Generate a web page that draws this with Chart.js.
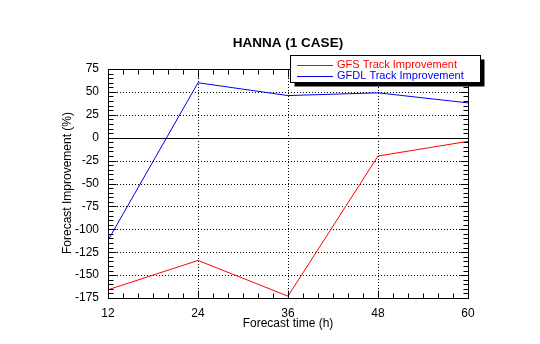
<!DOCTYPE html>
<html>
<head>
<meta charset="utf-8">
<script src="https://cdn.jsdelivr.net/npm/chart.js@4.4.1/dist/chart.umd.min.js"></script>
<style>
  html, body { margin: 0; padding: 0; background: #fff; }
  #wrap { width: 540px; height: 344px; }
</style>
</head>
<body>
<div id="wrap"><canvas id="trackChart" width="540" height="344"></canvas></div>
<script>
const forecastHours = [12, 24, 36, 48, 60];
const gfsImprovement = [-166, -134, -173, -20, -4];
const gfdlImprovement = [-112, 60, 46, 49, 38];
const yTicks = [75, 50, 25, 0, -25, -50, -75, -100, -125, -150, -175];

const FONT = 'Liberation Sans, Arial, Helvetica, sans-serif';

// frame, inward ticks, dotted grid, legend box and titles
const framePlugin = {
    id: 'frame',
    beforeDatasetsDraw(chart) {
        const { ctx, chartArea: a, scales: { x, y } } = chart;
        ctx.save();
        ctx.strokeStyle = '#000';
        ctx.lineWidth = 1;
        ctx.setLineDash([1, 2]);
        forecastHours.slice(1, -1).forEach(h => {
            const px = Math.round(x.getPixelForValue(h)) + 0.5;
            ctx.beginPath(); ctx.moveTo(px, a.top); ctx.lineTo(px, a.bottom); ctx.stroke();
        });
        yTicks.slice(1, -1).forEach(v => {
            if (v === 0) return;
            const py = Math.round(y.getPixelForValue(v)) + 0.5;
            ctx.beginPath(); ctx.moveTo(a.left, py); ctx.lineTo(a.right, py); ctx.stroke();
        });
        ctx.setLineDash([]);
        const zy = Math.round(y.getPixelForValue(0)) + 0.5;
        ctx.beginPath(); ctx.moveTo(a.left, zy); ctx.lineTo(a.right, zy); ctx.stroke();
        ctx.restore();
    },
    afterDatasetsDraw(chart) {
        const { ctx, chartArea: a, scales: { x, y } } = chart;
        ctx.save();
        ctx.strokeStyle = '#000';
        ctx.lineWidth = 1;
        const L = Math.round(a.left) + 0.5, R = Math.round(a.right) + 0.5;
        const T = Math.round(a.top) + 0.5, B = Math.round(a.bottom) + 0.5;
        ctx.strokeRect(L, T, R - L, B - T);

        // x ticks every 2 h, major every 12 h
        for (let h = 12; h <= 60; h += 2) {
            const px = Math.round(x.getPixelForValue(h)) + 0.5;
            const len = (h % 12 === 0) ? 8 : 5;
            ctx.beginPath();
            ctx.moveTo(px, B); ctx.lineTo(px, B - len);
            ctx.moveTo(px, T); ctx.lineTo(px, T + len);
            ctx.stroke();
        }
        // y ticks every 5 %, major every 25 %
        for (let v = -175; v <= 75; v += 5) {
            const py = Math.round(y.getPixelForValue(v)) + 0.5;
            const len = (v % 25 === 0) ? 8 : 5;
            ctx.beginPath();
            ctx.moveTo(L, py); ctx.lineTo(L + len, py);
            ctx.moveTo(R, py); ctx.lineTo(R - len, py);
            ctx.stroke();
        }

        // title
        ctx.fillStyle = '#000';
        ctx.textAlign = 'center';
        ctx.textBaseline = 'middle';
        ctx.font = 'bold 13.5px ' + FONT;
        ctx.fillText('HANNA (1 CASE)', 288, 43);

        // axis titles
        ctx.font = '12px ' + FONT;
        ctx.fillText('Forecast time (h)', 288, 324);
        ctx.save();
        ctx.translate(68, 183);
        ctx.rotate(-Math.PI / 2);
        ctx.fillText('Forecast Improvement (%)', 0, 0);
        ctx.restore();

        // legend box with drop shadow
        const bx = 290.5, by = 55.5, bw = 190, bh = 27;
        ctx.fillStyle = '#000';
        ctx.fillRect(bx + 4, by + 4, bw, bh);
        ctx.fillStyle = '#fff';
        ctx.fillRect(bx, by, bw, bh);
        ctx.strokeRect(bx, by, bw, bh);

        const items = [
            { text: 'GFS Track Improvement', color: '#ff0000', y: 65 },
            { text: 'GFDL Track Improvement', color: '#0000ee', y: 76 }
        ];
        ctx.textAlign = 'left';
        ctx.font = '11px ' + FONT;
        items.forEach(it => {
            ctx.strokeStyle = it.color;
            ctx.beginPath();
            ctx.moveTo(297, it.y + 0.5); ctx.lineTo(333, it.y + 0.5);
            ctx.stroke();
            ctx.fillStyle = it.color;
            ctx.fillText(it.text, 337, it.y);
        });
        ctx.restore();
    }
};

new Chart(document.getElementById('trackChart'), {
    type: 'line',
    data: {
        datasets: [
            {
                label: 'GFS Track Improvement',
                data: forecastHours.map((h, i) => ({ x: h, y: gfsImprovement[i] })),
                borderColor: '#ff0000',
                borderWidth: 1,
                pointRadius: 0,
                tension: 0
            },
            {
                label: 'GFDL Track Improvement',
                data: forecastHours.map((h, i) => ({ x: h, y: gfdlImprovement[i] })),
                borderColor: '#0000ee',
                borderWidth: 1,
                pointRadius: 0,
                tension: 0
            }
        ]
    },
    options: {
        responsive: false,
        animation: false,
        devicePixelRatio: 1,
        layout: { padding: { top: 69, right: 72, left: 0, bottom: 0 } },
        plugins: {
            legend: { display: false },
            title: { display: false },
            tooltip: { enabled: false }
        },
        scales: {
            x: {
                type: 'linear',
                min: 12,
                max: 60,
                afterBuildTicks: scale => { scale.ticks = forecastHours.map(v => ({ value: v })); },
                afterFit: scale => { scale.height = 46; },
                grid: { display: false, drawTicks: false },
                border: { display: false },
                ticks: { color: '#000', padding: 8, font: { family: FONT, size: 12 }, maxRotation: 0 }
            },
            y: {
                min: -175,
                max: 75,
                afterBuildTicks: scale => { scale.ticks = yTicks.map(v => ({ value: v })); },
                afterFit: scale => { scale.width = 108; },
                grid: { display: false, drawTicks: false },
                border: { display: false },
                ticks: { color: '#000', padding: 9, font: { family: FONT, size: 12 } }
            }
        }
    },
    plugins: [framePlugin]
});
</script>
</body>
</html>
